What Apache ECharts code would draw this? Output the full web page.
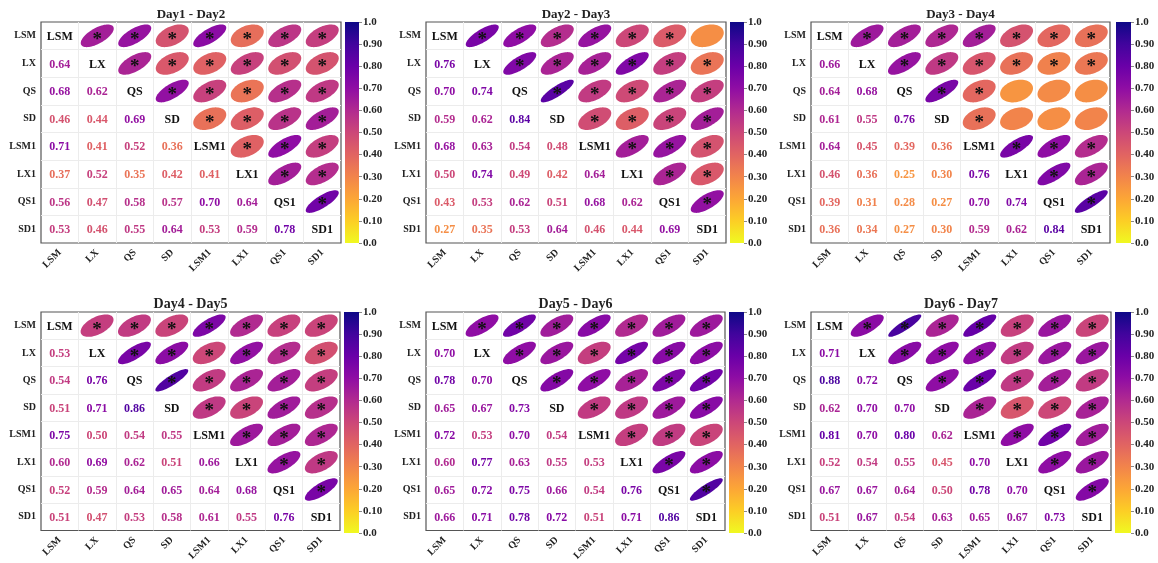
<!DOCTYPE html>
<html>
<head>
<meta charset="utf-8">
<script src="https://cdn.jsdelivr.net/npm/echarts@6/dist/echarts.min.js"></script>
<style>body{margin:0;background:#fff}</style>
</head>
<body>
<div id="main" style="width:1158px;height:563px;"></div>
<script>
var vars = ['LSM', 'LX', 'QS', 'SD', 'LSM1', 'LX1', 'QS1', 'SD1'];
var titles = ['Day1 - Day2', 'Day2 - Day3', 'Day3 - Day4', 'Day4 - Day5', 'Day5 - Day6', 'Day6 - Day7'];

// lower triangle, one row per variable from LX down to SD1
var day12 = [
  [0.64],
  [0.68, 0.62],
  [0.46, 0.44, 0.69],
  [0.71, 0.41, 0.52, 0.36],
  [0.37, 0.52, 0.35, 0.42, 0.41],
  [0.56, 0.47, 0.58, 0.57, 0.70, 0.64],
  [0.53, 0.46, 0.55, 0.64, 0.53, 0.59, 0.78]
];
var day23 = [
  [0.76],
  [0.70, 0.74],
  [0.59, 0.62, 0.84],
  [0.68, 0.63, 0.54, 0.48],
  [0.50, 0.74, 0.49, 0.42, 0.64],
  [0.43, 0.53, 0.62, 0.51, 0.68, 0.62],
  [0.27, 0.35, 0.53, 0.64, 0.46, 0.44, 0.69]
];
var day34 = [
  [0.66],
  [0.64, 0.68],
  [0.61, 0.55, 0.76],
  [0.64, 0.45, 0.39, 0.36],
  [0.46, 0.36, 0.25, 0.30, 0.76],
  [0.39, 0.31, 0.28, 0.27, 0.70, 0.74],
  [0.36, 0.34, 0.27, 0.30, 0.59, 0.62, 0.84]
];
var day45 = [
  [0.53],
  [0.54, 0.76],
  [0.51, 0.71, 0.86],
  [0.75, 0.50, 0.54, 0.55],
  [0.60, 0.69, 0.62, 0.51, 0.66],
  [0.52, 0.59, 0.64, 0.65, 0.64, 0.68],
  [0.51, 0.47, 0.53, 0.58, 0.61, 0.55, 0.76]
];
var day56 = [
  [0.70],
  [0.78, 0.70],
  [0.65, 0.67, 0.73],
  [0.72, 0.53, 0.70, 0.54],
  [0.60, 0.77, 0.63, 0.55, 0.53],
  [0.65, 0.72, 0.75, 0.66, 0.54, 0.76],
  [0.66, 0.71, 0.78, 0.72, 0.51, 0.71, 0.86]
];
var day67 = [
  [0.71],
  [0.88, 0.72],
  [0.62, 0.70, 0.70],
  [0.81, 0.70, 0.80, 0.62],
  [0.52, 0.54, 0.55, 0.45, 0.70],
  [0.67, 0.67, 0.64, 0.50, 0.78, 0.70],
  [0.51, 0.67, 0.54, 0.63, 0.65, 0.67, 0.73]
];
var panels = [day12, day23, day34, day45, day56, day67];

// plasma, dark -> light
var plasma = ['#0d0887', '#41049d', '#6a00a8', '#8f0da4', '#b12a90', '#cc4778',
              '#e16462', '#f2844b', '#fca636', '#fcce25', '#f0f921'];

var font = 'Liberation Serif';
var sigLevel = 0.31;

// left, top, width, height, bar left, bar width, title size
var boxes = [
  [41, 22, 300, 221, 345, 14, 13],
  [426, 22, 300, 221, 730, 14, 13],
  [811, 22, 299, 221, 1116, 15, 13],
  [41, 312, 299, 221, 344, 15, 14],
  [426, 312, 299, 221, 729, 15, 14],
  [811, 312, 300, 221, 1115, 16, 14]
];

function corr(m, i, j) {
  if (i === j) return 1;
  return i > j ? m[i - 1][j] : m[j - 1][i];
}

function drawCell(params, api) {
  var col = api.value(0), row = api.value(1), r = api.value(2), kind = api.value(3);
  var c = api.coord([col, row]);
  var s = api.size([1, 1]);
  var color = api.visual('color');
  if (kind === 0) {
    return {type: 'text', x: c[0], y: c[1] + 1, style: {text: vars[col], font: 'bold 12px ' + font,
      fill: '#111', align: 'center', verticalAlign: 'middle'}};
  }
  if (kind === 1) {
    return {type: 'text', x: c[0], y: c[1] + 1, style: {text: r.toFixed(2), font: 'bold 12px ' + font,
      fill: color, align: 'center', verticalAlign: 'middle'}};
  }
  var d = Math.acos(r) / 2, pts = [];
  for (var k = 0; k < 72; k++) {
    var t = k / 72 * 2 * Math.PI;
    pts.push([c[0] + 0.88 * s[0] / 2 * Math.cos(t + d), c[1] - 0.82 * s[1] / 2 * Math.cos(t - d)]);
  }
  var kids = [{type: 'polygon', shape: {points: pts}, style: {fill: color}}];
  if (r >= sigLevel) {
    kids.push({type: 'text', x: c[0], y: c[1] + 4, style: {text: '*', font: 'bold 19px ' + font,
      fill: '#111', align: 'center', verticalAlign: 'middle'}});
  }
  return {type: 'group', children: kids};
}

function drawBar(params, api) {
  var top = api.coord([0, 1]), bot = api.coord([0, 0]);
  var w = api.size([1, 0])[0];
  var stops = plasma.map(function (c, k) { return {offset: k / 10, color: c}; });
  return {type: 'rect', shape: {x: top[0] - w / 2, y: top[1], width: w, height: bot[1] - top[1]},
    style: {fill: new echarts.graphic.LinearGradient(0, 0, 0, 1, stops)}};
}

var grid = [], xAxis = [], yAxis = [], series = [], title = [], matrixSeries = [];
var labelStyle = {fontFamily: font, fontWeight: 'bold', fontSize: 10, color: '#222'};

panels.forEach(function (m, p) {
  var b = boxes[p];
  grid.push({left: b[0], top: b[1], width: b[2], height: b[3], show: true,
    borderColor: '#555', borderWidth: 1.2, backgroundColor: '#fff'});
  grid.push({left: b[4], top: b[1], width: b[5], height: b[3]});
  title.push({text: titles[p], left: b[0] + b[2] / 2, top: b[1] - b[6] - 1, padding: 0, textAlign: 'center',
    textStyle: {fontFamily: font, fontWeight: 'bold', fontSize: b[6], color: '#222'}});

  xAxis.push({type: 'category', gridIndex: 2 * p, data: vars, boundaryGap: true,
    axisLine: {show: false}, axisTick: {show: false},
    axisLabel: Object.assign({rotate: 45, margin: 8, interval: 0}, labelStyle),
    splitLine: {show: true, showMinLine: false, showMaxLine: false, lineStyle: {color: '#ececec', width: 1}}});
  yAxis.push({type: 'category', gridIndex: 2 * p, data: vars, inverse: true, boundaryGap: true,
    axisLine: {show: false}, axisTick: {show: false},
    axisLabel: Object.assign({margin: 5, interval: 0}, labelStyle),
    splitLine: {show: true, showMinLine: false, showMaxLine: false, lineStyle: {color: '#ececec', width: 1}}});

  xAxis.push({type: 'category', gridIndex: 2 * p + 1, data: ['bar'], show: false});
  yAxis.push({type: 'value', gridIndex: 2 * p + 1, min: 0, max: 1, interval: 0.1, position: 'right',
    axisLine: {show: false}, splitLine: {show: false},
    axisTick: {show: true, length: 3, lineStyle: {color: '#888'}},
    axisLabel: Object.assign({}, labelStyle, {margin: 4, fontSize: 11, formatter: function (v) {
      return (v === 0 || v === 1) ? v.toFixed(1) : v.toFixed(2);
    }})});

  var cells = [];
  for (var i = 0; i < vars.length; i++) {
    for (var j = 0; j < vars.length; j++) {
      cells.push([j, i, corr(m, i, j), i === j ? 0 : (i > j ? 1 : 2)]);
    }
  }
  matrixSeries.push(series.length);
  series.push({type: 'custom', xAxisIndex: 2 * p, yAxisIndex: 2 * p, data: cells,
    renderItem: drawCell, silent: true});
  series.push({type: 'custom', xAxisIndex: 2 * p + 1, yAxisIndex: 2 * p + 1, data: [[0]],
    renderItem: drawBar, silent: true});
});

var myChart = echarts.init(document.getElementById('main'));
myChart.setOption({
  backgroundColor: '#fff',
  animation: false,
  title: title,
  grid: grid,
  xAxis: xAxis,
  yAxis: yAxis,
  visualMap: {type: 'continuous', show: false, min: 0, max: 1, dimension: 2,
    seriesIndex: matrixSeries, inRange: {color: plasma.slice().reverse()}},
  series: series
});
</script>
</body>
</html>
